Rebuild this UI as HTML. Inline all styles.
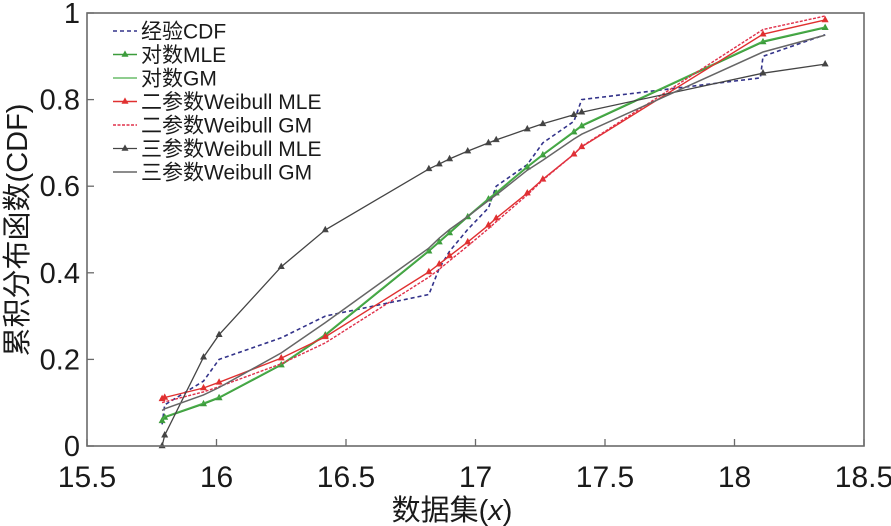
<!DOCTYPE html>
<html><head><meta charset="utf-8"><style>
html,body{margin:0;padding:0;background:#fff;}
svg{display:block;}
text{font-family:"Liberation Sans","Noto Sans CJK SC",sans-serif;fill:#1a1a1a;}
</style></head><body>
<svg id="chart" width="891" height="526" viewBox="0 0 891 526" xmlns="http://www.w3.org/2000/svg">
<g id="plot"></g>
<g id="axes"></g>
<g id="legend"></g>
<text transform="translate(27,230) rotate(-90)" text-anchor="middle" font-size="29">累积分布函数(CDF)</text>
<text x="452" y="520" text-anchor="middle" font-size="29">数据集(<tspan font-style="italic">x</tspan>)</text>
</svg>
<script>
const xTicks=[15.5,16,16.5,17,17.5,18,18.5];
const xTickLabels=["15.5","16","16.5","17","17.5","18","18.5"];
const yTicks=[0,0.2,0.4,0.6,0.8,1];
const yTickLabels=["0","0.2","0.4","0.6","0.8","1"];
const xPts=[15.79,15.80,15.95,16.01,16.25,16.42,16.82,16.86,16.90,16.97,17.05,17.08,17.20,17.26,17.38,17.41,18.11,18.35];
const ecdfX=[15.79,15.80,15.95,16.01,16.25,16.42,16.82,16.86,16.90,16.97,17.05,17.08,17.20,17.26,17.38,17.41,18.10,18.11,18.35];
const ecdfY=[0.05,0.095,0.15,0.2,0.25,0.3,0.35,0.41,0.45,0.5,0.55,0.6,0.65,0.7,0.75,0.8,0.85,0.9,0.95];
const logMLE=[0.058,0.066,0.097,0.111,0.187,0.256,0.45,0.471,0.492,0.529,0.57,0.584,0.644,0.672,0.725,0.739,0.933,0.966];
const logGM=[0.06,0.068,0.099,0.113,0.189,0.258,0.452,0.473,0.494,0.531,0.572,0.586,0.646,0.674,0.727,0.741,0.935,0.968];
const w2MLE=[0.109,0.112,0.134,0.147,0.203,0.252,0.402,0.42,0.439,0.471,0.51,0.526,0.584,0.616,0.674,0.691,0.951,0.984];
const w2GM=[0.10,0.102,0.125,0.137,0.19,0.238,0.39,0.408,0.428,0.462,0.502,0.518,0.58,0.614,0.674,0.692,0.962,0.993];
const w3MLE=[0,0.025,0.205,0.257,0.414,0.499,0.64,0.651,0.663,0.681,0.70,0.707,0.732,0.744,0.765,0.771,0.861,0.882];
const w3GM=[0.082,0.086,0.118,0.135,0.215,0.285,0.457,0.48,0.5,0.53,0.567,0.58,0.637,0.66,0.709,0.72,0.91,0.949];

const L=87,R=864,T=13,B=446;
function sx(v){return L+(v-15.5)/3*(R-L);}
function sy(v){return B-v*(B-T);}
const NS="http://www.w3.org/2000/svg";
function mk(tag,attrs,parent){const e=document.createElementNS(NS,tag);for(const k in attrs)e.setAttribute(k,attrs[k]);parent.appendChild(e);return e;}
const plot=document.getElementById('plot'),axes=document.getElementById('axes'),legend=document.getElementById('legend');

const series=[
 {name:"经验CDF",key:"ecdf-line",xs:ecdfX,ys:ecdfY,color:"#33338a",dash:"4,3",w:1.6,marker:false},
 {name:"对数MLE",key:"log-mle-line",xs:xPts,ys:logMLE,color:"#3c9c3c",dash:"",w:1.6,marker:true},
 {name:"对数GM",key:"log-gm-line",xs:xPts,ys:logGM,color:"#4caf4c",dash:"",w:1.2,marker:false},
 {name:"二参数Weibull MLE",key:"weibull2-mle-line",xs:xPts,ys:w2MLE,color:"#e03030",dash:"",w:1.4,marker:true},
 {name:"二参数Weibull GM",key:"weibull2-gm-line",xs:xPts,ys:w2GM,color:"#e0304a",dash:"3,1.5",w:1.4,marker:false},
 {name:"三参数Weibull MLE",key:"weibull3-mle-line",xs:xPts,ys:w3MLE,color:"#444",dash:"",w:1.3,marker:true},
 {name:"三参数Weibull GM",key:"weibull3-gm-line",xs:xPts,ys:w3GM,color:"#666",dash:"",w:1.5,marker:false}
];
function tri(x,y,c,parent){
 const p=mk('path',{d:`M${x},${y-3.5}L${x+3},${y+2}L${x-3},${y+2}Z`,fill:c,stroke:c,'stroke-width':0.6},parent);
 
 
}
series.forEach(s=>{
 const g=mk('g',{},plot);
 
 
 const d=s.xs.map((x,i)=>(i?'L':'M')+sx(x).toFixed(1)+','+sy(s.ys[i]).toFixed(1)).join('');
 const p=mk('path',{d:d,fill:'none',stroke:s.color,'stroke-width':s.w,'stroke-dasharray':s.dash},g);
 
 
 if(s.marker)s.xs.forEach((x,i)=>tri(sx(x),sy(s.ys[i]),s.color,g));
});
// frame
const fr=mk('rect',{x:L,y:T,width:R-L,height:B-T,fill:'none',stroke:'#6a6a6a','stroke-width':1.6},axes);


xTicks.forEach((v,i)=>{
 const t=mk('line',{x1:sx(v),x2:sx(v),y1:B,y2:B-7,stroke:'#6a6a6a','stroke-width':1.3},axes);
 
 
 const lb=mk('text',{x:sx(v),y:487,'text-anchor':'middle','font-size':30},axes);
 lb.textContent=xTickLabels[i];
 
 
});
yTicks.forEach((v,i)=>{
 const t=mk('line',{x1:L,x2:L+7,y1:sy(v),y2:sy(v),stroke:'#6a6a6a','stroke-width':1.3},axes);
 
 
 const lb=mk('text',{x:80,y:sy(v)+10,'text-anchor':'end','font-size':29},axes);
 lb.textContent=yTickLabels[i];
 
 
});
// legend
series.forEach((s,i)=>{
 const y=31+i*23.5;
 const g=mk('g',{},legend);
 
 
 mk('line',{x1:113,x2:137,y1:y,y2:y,stroke:s.color,'stroke-width':s.w,'stroke-dasharray':s.dash},g);
 if(s.marker)tri(125,y,s.color,g);
 const tx=mk('text',{x:141,y:y+7.5,'font-size':21},g);
 tx.textContent=s.name;
});
</script>
</body></html>
